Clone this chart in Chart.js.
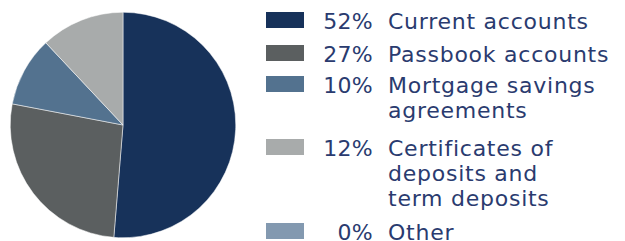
<!DOCTYPE html>
<html>
<head>
<meta charset="utf-8">
<script src="https://cdn.jsdelivr.net/npm/chart.js@4/dist/chart.umd.min.js"></script>
<style>
  body { margin: 0; background: #fff; width: 625px; height: 241px; overflow: hidden; position: relative; }
  #pieBox { position: absolute; left: 0; top: 0; width: 248px; height: 241px; }
  .row { position: absolute; left: 266px; font-family: "DejaVu Sans", sans-serif; font-size: 22px; line-height: 25px; color: #2a3b6f; }
  .swatch { position: absolute; left: 0; width: 38px; height: 16px; }
  .pct { position: absolute; right: 0; width: 80px; text-align: right; letter-spacing: 0.3px; }
  .lbl { position: absolute; left: 122px; width: 240px; letter-spacing: 0.75px; }
</style>
</head>
<body>
<div id="pieBox"><canvas id="chart1"></canvas></div>
<div id="legend"></div>
<script>
// slice data
const categories = ['Current accounts', 'Passbook accounts', 'Mortgage savings agreements', 'Certificates of deposits and term deposits', 'Other'];
const shares = [51.3, 26.7, 10.0, 12.0, 0];
const pctLabels = ['52%', '27%', '10%', '12%', '0%'];
const colors = ['#17325a', '#5b5f60', '#53728f', '#a8abab', '#8399b0'];
// wrapped legend text, one entry per line
const labelLines = [
  ['Current accounts'],
  ['Passbook accounts'],
  ['Mortgage savings', 'agreements'],
  ['Certificates of', 'deposits and', 'term deposits'],
  ['Other']
];
const rowTops = [12, 45, 76, 139, 223];

const ctx = document.getElementById('chart1').getContext('2d');
const pie = new Chart(ctx, {
  type: 'pie',
  data: {
    labels: categories,
    datasets: [{
      data: shares,
      backgroundColor: colors,
      borderColor: '#ffffff',
      borderWidth: 0.5
    }]
  },
  options: {
    responsive: true,
    maintainAspectRatio: false,
    animation: false,
    layout: { padding: { top: 12, bottom: 3, left: 10, right: 12 } },
    plugins: {
      legend: { display: false },
      tooltip: { enabled: false }
    }
  }
});

// legend on the right, built from the same arrays
const legend = document.getElementById('legend');
categories.forEach((c, i) => {
  const row = document.createElement('div');
  row.className = 'row';
  row.style.top = rowTops[i] + 'px';
  row.style.width = '359px';
  row.style.height = (labelLines[i].length * 25) + 'px';

  const sw = document.createElement('div');
  sw.className = 'swatch';
  sw.style.top = '0px';
  sw.style.background = colors[i];
  row.appendChild(sw);

  const pct = document.createElement('div');
  pct.className = 'pct';
  pct.style.left = '27px';
  pct.style.top = '-3px';
  pct.textContent = pctLabels[i];
  row.appendChild(pct);

  const lbl = document.createElement('div');
  lbl.className = 'lbl';
  lbl.style.top = '-3px';
  lbl.innerHTML = labelLines[i].join('<br>');
  row.appendChild(lbl);

  legend.appendChild(row);
});
</script>
</body>
</html>
